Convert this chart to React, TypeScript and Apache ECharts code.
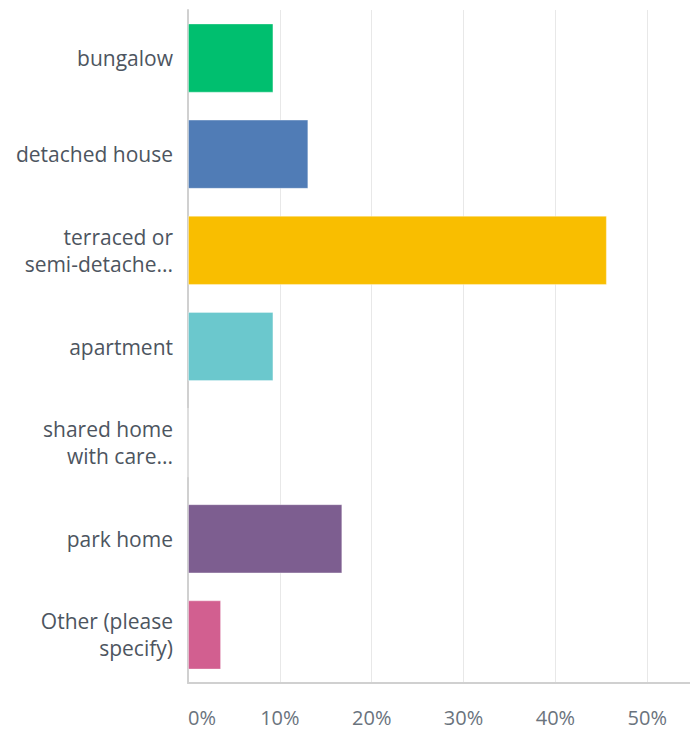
import React, { useEffect, useRef } from "react";
import * as echarts from "echarts";

const categories = [
  "bungalow",
  "detached house",
  "terraced or\nsemi-detache...",
  "apartment",
  "shared home\nwith care...",
  "park home",
  "Other (please\nspecify)",
];
const values = [9.3, 13.1, 45.6, 9.3, 0, 16.8, 3.6];
const barColors = ["#00BF6F", "#507CB6", "#F9BE00", "#6BC8CD", "#A0A0A0", "#7D5E90", "#D25F90"];

export default function App() {
  const ref = useRef<HTMLDivElement>(null);
  useEffect(() => {
    if (!ref.current) return;
    const chart = echarts.init(ref.current, undefined, { renderer: "svg" });
    const font = "'Open Sans', sans-serif";
    chart.setOption({
      animation: false,
      grid: { left: 188, right: 0, top: 10, bottom: 46, containLabel: false },
      xAxis: {
        type: "value",
        min: 0,
        max: 54.65,
        interval: 10,
        axisLine: { show: true, lineStyle: { color: "#d0d0d0", width: 2 } },
        axisTick: { show: false },
        splitLine: { show: true, lineStyle: { color: "#e8e8e8", width: 1 } },
        axisLabel: {
          formatter: (v: number) => (v % 10 === 0 ? `${v}%` : ""),
          showMaxLabel: false,
          alignMinLabel: "left",
          color: "#6a737d",
          fontFamily: font,
          fontSize: 20,
          lineHeight: 20,
          margin: 24,
        },
      },
      yAxis: {
        type: "category",
        data: categories,
        inverse: true,
        axisLine: { show: true, lineStyle: { color: "#d0d0d0", width: 2 } },
        axisTick: { show: false },
        axisLabel: {
          color: "#4d5560",
          fontFamily: font,
          fontSize: 21,
          lineHeight: 27,
          margin: 15,
          align: "right",
        },
      },
      series: [
        {
          type: "bar",
          data: values.map((v, i) => ({ value: v, itemStyle: { color: barColors[i] } })),
          barCategoryGap: "28%",
          itemStyle: { borderColor: "rgba(255,255,255,0.35)", borderWidth: 1 },
        },
      ],
    });
    return () => chart.dispose();
  }, []);
  return (
    <div
      ref={ref}
      style={{ position: "fixed", left: 0, top: 0, width: 690, height: 729, background: "#fff" }}
    />
  );
}
